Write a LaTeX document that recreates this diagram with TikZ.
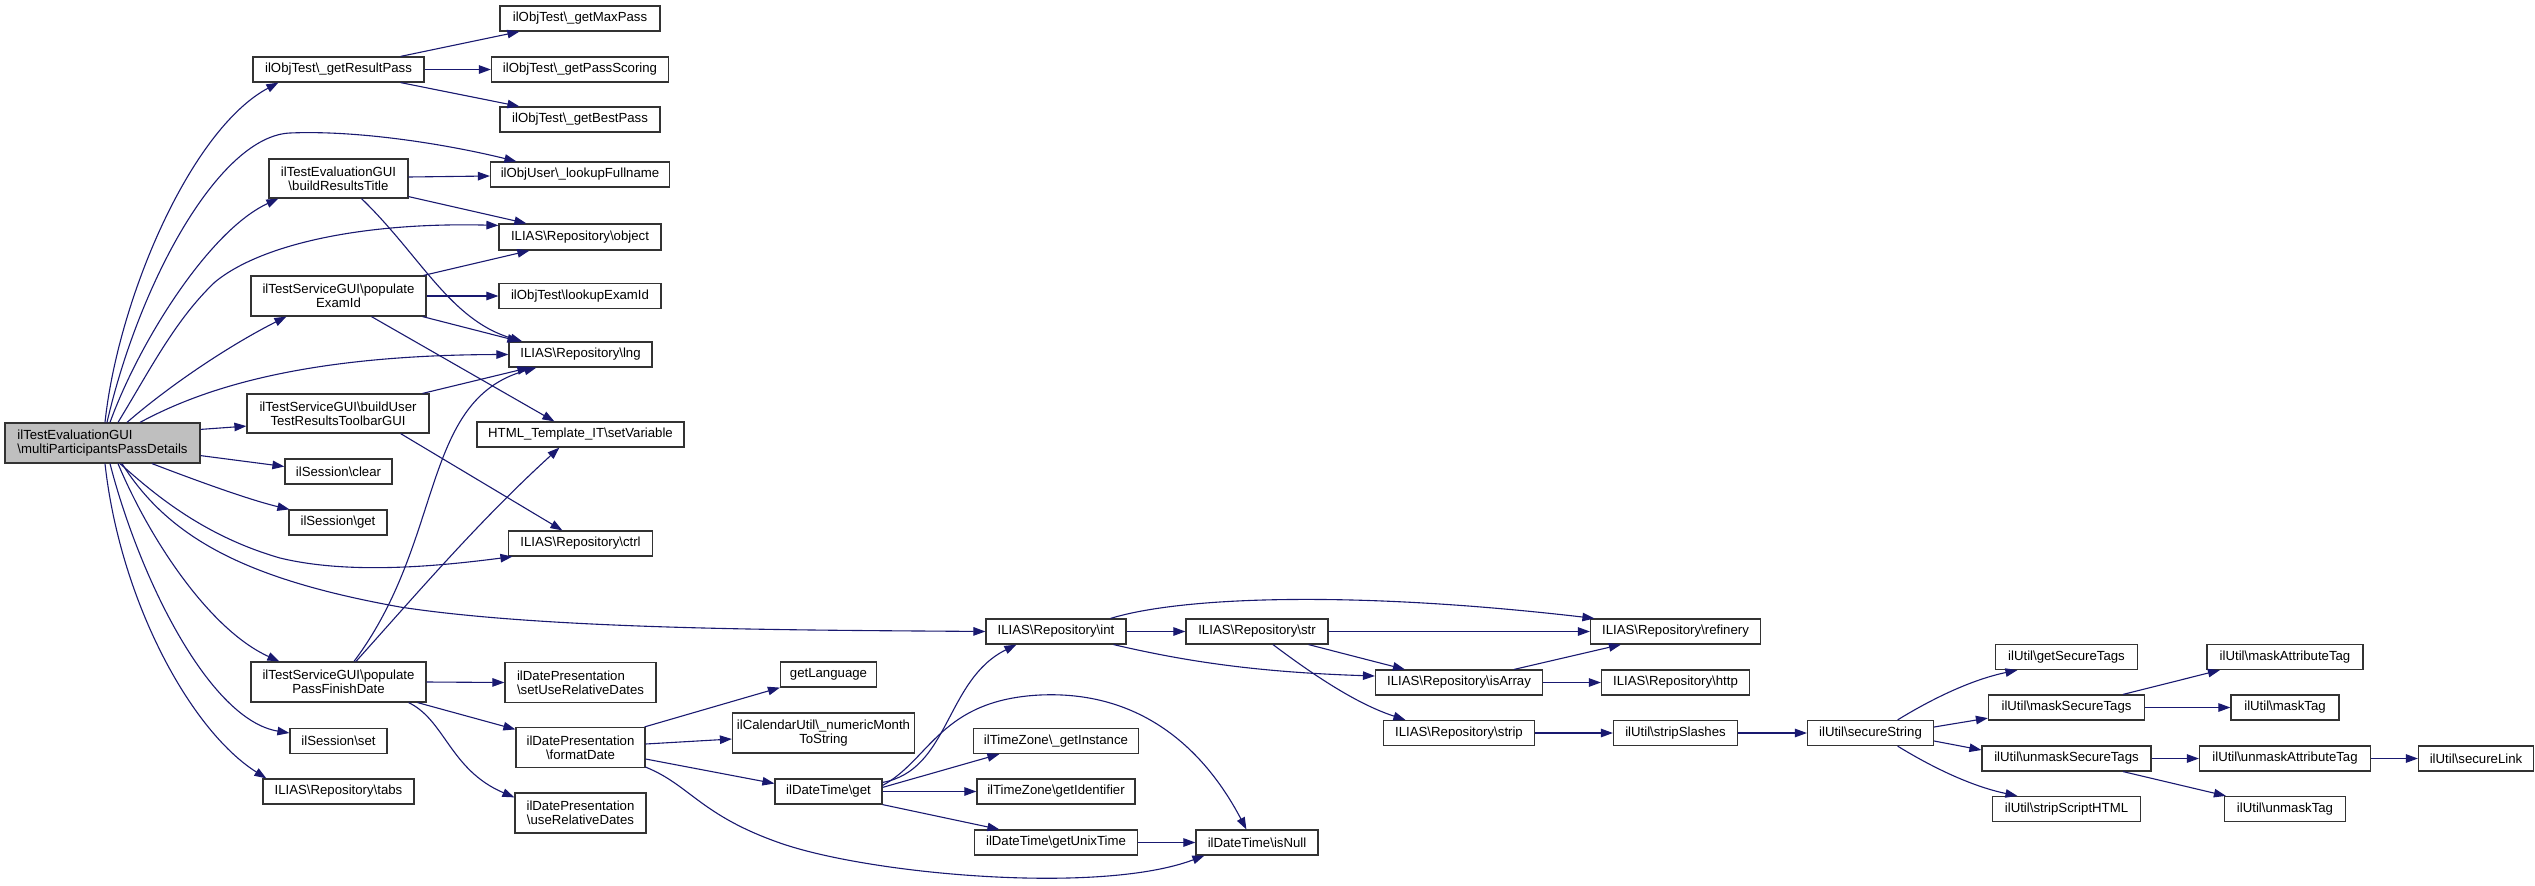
\documentclass[tikz,border=0pt]{standalone}
\usepackage{fontspec}
\setmainfont{Liberation Sans}
\usetikzlibrary{calc,arrows.meta}
\definecolor{edgeblue}{HTML}{191970}
\newcommand{\BSL}{\textbackslash}
\newcommand{\nodefont}{\fontsize{13.2}{14}\selectfont}
\begin{document}
\begin{tikzpicture}[x=1pt,y=-1pt,
  box/.style={draw=black!80, line width=1.2pt, inner sep=0pt, font=\nodefont, align=center, fill=white},
  cn/.style={draw=edgeblue, line width=1.1pt, -{Triangle[length=12pt,width=8.5pt]}, edgeblue}]
\useasboundingbox[fill=white] (0,0) rectangle (2535,886);
% rank 0
\node[box, fill=black!25, align=left, minimum width=195pt, minimum height=40pt] (main) at (102.5,443) {ilTestEvaluationGUI\\\BSL multiParticipantsPassDetails};
% rank 1
\node[box, minimum width=171pt, minimum height=25pt] (grp) at (338.5,69.5) {ilObjTest\BSL\_getResultPass};
\node[box, minimum width=139pt, minimum height=39pt] (brt) at (338.5,178.5) {ilTestEvaluationGUI\\\BSL buildResultsTitle};
\node[box, minimum width=175pt, minimum height=40pt] (pei) at (338.5,296) {ilTestServiceGUI\BSL populate\\ExamId};
\node[box, minimum width=182pt, minimum height=39pt] (but) at (338,413.5) {ilTestServiceGUI\BSL buildUser\\TestResultsToolbarGUI};
\node[box, minimum width=107pt, minimum height=25pt] (sclear) at (338.5,471.5) {ilSession\BSL clear};
\node[box, minimum width=98pt, minimum height=25pt] (sget) at (338,522.5) {ilSession\BSL get};
\node[box, minimum width=175pt, minimum height=40pt] (ppfd) at (338.5,682) {ilTestServiceGUI\BSL populate\\PassFinishDate};
\node[box, minimum width=97pt, minimum height=25pt] (sset) at (338.5,741) {ilSession\BSL set};
\node[box, minimum width=151pt, minimum height=25pt] (tabs) at (338.5,791.5) {ILIAS\BSL Repository\BSL tabs};
% rank 2
\node[box, minimum width=160pt, minimum height=25pt] (gmp) at (580,18.5) {ilObjTest\BSL\_getMaxPass};
\node[box, minimum width=177pt, minimum height=25pt] (gps) at (580,69.5) {ilObjTest\BSL\_getPassScoring};
\node[box, minimum width=160pt, minimum height=25pt] (gbp) at (580,119.5) {ilObjTest\BSL\_getBestPass};
\node[box, minimum width=179pt, minimum height=25pt] (luf) at (580,174.5) {ilObjUser\BSL\_lookupFullname};
\node[box, minimum width=162pt, minimum height=26pt] (obj) at (580,237) {ILIAS\BSL Repository\BSL object};
\node[box, minimum width=162pt, minimum height=25pt] (lei) at (580,296) {ilObjTest\BSL lookupExamId};
\node[box, minimum width=143pt, minimum height=25pt] (lng) at (580.5,354.5) {ILIAS\BSL Repository\BSL lng};
\node[box, minimum width=207pt, minimum height=25pt] (setv) at (580.5,434.5) {HTML\_Template\_IT\BSL setVariable};
\node[box, minimum width=144pt, minimum height=25pt] (ctrl) at (580.5,543.5) {ILIAS\BSL Repository\BSL ctrl};
\node[box, align=left, minimum width=151pt, minimum height=40pt] (surd) at (580.5,682.5) {ilDatePresentation\\\BSL setUseRelativeDates};
\node[box, minimum width=129pt, minimum height=40pt] (fmt) at (580.5,747.5) {ilDatePresentation\\\BSL formatDate};
\node[box, minimum width=131pt, minimum height=40pt] (urd) at (580.5,813) {ilDatePresentation\\\BSL useRelativeDates};
% rank 3
\node[box, minimum width=96pt, minimum height=25pt] (glang) at (828.5,674.5) {getLanguage};
\node[box, minimum width=182pt, minimum height=40pt] (cal) at (823.5,733) {ilCalendarUtil\BSL\_numericMonth\\ToString};
\node[box, minimum width=107pt, minimum height=25pt] (dget) at (828.5,791.5) {ilDateTime\BSL get};
% rank 4
\node[box, minimum width=140pt, minimum height=25pt] (int) at (1056,631.5) {ILIAS\BSL Repository\BSL int};
\node[box, minimum width=165pt, minimum height=25pt] (gin) at (1056,741) {ilTimeZone\BSL\_getInstance};
\node[box, minimum width=158pt, minimum height=25pt] (gid) at (1056,791.5) {ilTimeZone\BSL getIdentifier};
\node[box, minimum width=163pt, minimum height=25pt] (gut) at (1056,842.5) {ilDateTime\BSL getUnixTime};
% rank 5
\node[box, minimum width=142pt, minimum height=25pt] (str) at (1257,631.5) {ILIAS\BSL Repository\BSL str};
\node[box, minimum width=122pt, minimum height=25pt] (isn) at (1257,842.5) {ilDateTime\BSL isNull};
% rank 6
\node[box, minimum width=167pt, minimum height=25pt] (isarr) at (1459,682.5) {ILIAS\BSL Repository\BSL isArray};
\node[box, minimum width=151pt, minimum height=25pt] (strip) at (1459,733) {ILIAS\BSL Repository\BSL strip};
% rank 7
\node[box, minimum width=170pt, minimum height=25pt] (ref) at (1675.5,631.5) {ILIAS\BSL Repository\BSL refinery};
\node[box, minimum width=148pt, minimum height=25pt] (http) at (1675.5,682.5) {ILIAS\BSL Repository\BSL http};
\node[box, minimum width=124pt, minimum height=25pt] (sls) at (1675.5,733) {ilUtil\BSL stripSlashes};
% rank 8
\node[box, minimum width=126pt, minimum height=25pt] (sec) at (1870.5,733) {ilUtil\BSL secureString};
% rank 9
\node[box, minimum width=142pt, minimum height=25pt] (gst) at (2066.5,657) {ilUtil\BSL getSecureTags};
\node[box, minimum width=156pt, minimum height=25pt] (mst) at (2066.5,707.5) {ilUtil\BSL maskSecureTags};
\node[box, minimum width=169pt, minimum height=25pt] (ust) at (2066.5,758.5) {ilUtil\BSL unmaskSecureTags};
\node[box, minimum width=148pt, minimum height=25pt] (ssh) at (2066.5,809) {ilUtil\BSL stripScriptHTML};
% rank 10
\node[box, minimum width=156pt, minimum height=25pt] (mat) at (2285,657) {ilUtil\BSL maskAttributeTag};
\node[box, minimum width=108pt, minimum height=25pt] (mtag) at (2285,707.5) {ilUtil\BSL maskTag};
\node[box, minimum width=171pt, minimum height=25pt] (uat) at (2285,758.5) {ilUtil\BSL unmaskAttributeTag};
\node[box, minimum width=121pt, minimum height=25pt] (utag) at (2285,809) {ilUtil\BSL unmaskTag};
% rank 11
\node[box, minimum width=115pt, minimum height=25pt] (slink) at (2476,758.5) {ilUtil\BSL secureLink};

% edges from main
\draw[cn] ($(main.north)+(2.5,0)$) .. controls (118,300) and (190,130) .. ($(grp.south west)+(26,0)$);
\draw[cn] ($(main.north)+(4.5,0)$) .. controls (140,280) and (220,136) .. (290,133) .. controls (360,130) and (450,145) .. ($(luf.north west)+(26.5,0)$);
\draw[cn] ($(main.north)+(7.5,0)$) .. controls (140,340) and (210,230) .. ($(brt.south west)+(10,0)$);
\draw[cn] ($(main.north)+(15.5,0)$) .. controls (150,370) and (175,320) .. (215,282) .. controls (260,245) and (360,222) .. ($(obj.north west)+(0,2)$);
\draw[cn] ($(main.north)+(24.5,0)$) .. controls (170,385) and (230,345) .. ($(pei.south west)+(36,0)$);
\draw[cn] ($(main.north)+(37.5,0)$) .. controls (200,390) and (300,355) .. (lng.west);
\draw[cn] ($(main.north east)+(0,7)$) -- ($(but.south west)+(0,-7.5)$);
\draw[cn] ($(main.south east)+(0,-8)$) -- ($(sclear.west)+(0,-5)$);
\draw[cn] ($(main.south)+(49.5,0)$) .. controls (200,482) and (250,500) .. ($(sget.north west)+(1,0)$);
\draw[cn] ($(main.south)+(17.5,0)$) .. controls (150,490) and (200,535) .. (280,558) .. controls (350,575) and (440,566) .. ($(ctrl.south west)+(4.5,0)$);
\draw[cn] ($(main.south)+(19.5,0)$) .. controls (170,540) and (250,580) .. (400,607) .. controls (550,630) and (800,630) .. (int.west);
\draw[cn] ($(main.south)+(15.5,0)$) .. controls (150,540) and (210,630) .. ($(ppfd.north west)+(29,0)$);
\draw[cn] ($(main.south)+(7.5,0)$) .. controls (140,580) and (210,720) .. ($(sset.west)+(0,-8)$);
\draw[cn] ($(main.south)+(2.5,0)$) .. controls (120,600) and (190,730) .. ($(tabs.north west)+(4,0)$);

% rank 1 edges
\draw[cn] ($(grp.north east)+(-24,0)$) -- ($(gmp.south west)+(20,0)$);
\draw[cn] (grp.east) -- (gps.west);
\draw[cn] ($(grp.south east)+(-24,0)$) -- ($(gbp.north west)+(20,0)$);
\draw[cn] ($(brt.east)+(0,-1.5)$) -- ($(luf.west)+(0,1.5)$);
\draw[cn] ($(brt.south east)+(0,-2)$) -- ($(obj.north west)+(28,0)$);
\draw[cn] ($(brt.south)+(23,0)$) .. controls (420,255) and (450,320) .. ($(lng.north west)+(14,0)$);
\draw[cn] ($(pei.north east)+(-3,0)$) -- ($(obj.south west)+(31,0)$);
\draw[cn] (pei.east) -- (lei.west);
\draw[cn] ($(pei.south east)+(-4,0)$) -- ($(lng.north west)+(11,0)$);
\draw[cn] ($(pei.south)+(33,0)$) -- ($(setv.north west)+(78,0)$);
\draw[cn] ($(but.north east)+(-7,0)$) -- ($(lng.south west)+(21,0)$);
\draw[cn] ($(but.south east)+(-29,0)$) -- ($(ctrl.north west)+(54.5,0)$);
\draw[cn] ($(ppfd.north)+(15.5,0)$) .. controls (445,540) and (420,400) .. ($(lng.south west)+(28,0)$);
\draw[cn] ($(ppfd.north)+(17.5,0)$) .. controls (420,590) and (480,520) .. ($(setv.south west)+(83,0)$);
\draw[cn] (ppfd.east) -- (surd.west);
\draw[cn] ($(ppfd.south east)+(-9,0)$) -- ($(fmt.north west)+(0,2.5)$);
\draw[cn] ($(ppfd.south east)+(-18,0)$) .. controls (445,720) and (450,770) .. ($(urd.north west)+(0,5)$);

% formatDate edges
\draw[cn] ($(fmt.north east)+(-1,0)$) -- (glang.south west);
\draw[cn] ($(fmt.east)+(0,-3.5)$) -- ($(cal.west)+(0,6)$);
\draw[cn] ($(fmt.east)+(0,11.5)$) -- ($(dget.west)+(0,-8)$);
\draw[cn] ($(fmt.south east)+(0,-1)$) .. controls (690,785) and (700,815) .. (780,843) .. controls (870,874.5) and (1100,895) .. ($(isn.south west)+(9,0)$);

% ilDateTime get edges
\draw[cn] ($(dget.north east)+(0,4)$) .. controls (950,770) and (945,680) .. ($(int.south west)+(31,0)$);
\draw[cn] ($(dget.north east)+(0,7)$) .. controls (930,760) and (940,700) .. (1040,695) .. controls (1150,690) and (1210,760) .. ($(isn.north west)+(51,0)$);
\draw[cn] ($(dget.north east)+(0,9)$) -- ($(gin.south west)+(26.5,0)$);
\draw[cn] (dget.east) -- (gid.west);
\draw[cn] (dget.south east) -- ($(gut.north west)+(25.5,0)$);
\draw[cn] (gut.east) -- (isn.west);

% int / str edges
\draw[cn] (int.east) -- (str.west);
\draw[cn] ($(int.north east)+(-16,0)$) .. controls (1180,597) and (1350,590) .. ($(ref.north west)+(4.5,0)$);
\draw[cn] ($(int.south east)+(-13,0)$) .. controls (1180,660) and (1250,672) .. ($(isarr.west)+(0,-6.5)$);
\draw[cn] (str.east) -- (ref.west);
\draw[cn] ($(str.south east)+(-20,0)$) -- ($(isarr.north west)+(30,0)$);
\draw[cn] ($(str.south)+(16,0)$) .. controls (1320,680) and (1360,705) .. ($(strip.north west)+(22.5,0)$);
\draw[cn] ($(isarr.north east)+(-29,0)$) -- ($(ref.south west)+(31,0)$);
\draw[cn] (isarr.east) -- (http.west);
\draw[cn] (strip.east) -- (sls.west);
\draw[cn] (sls.east) -- (sec.west);

% secureString edges
\draw[cn] ($(sec.north east)+(-36.5,0)$) .. controls (1930,700) and (1970,680) .. ($(gst.south west)+(22.5,0)$);
\draw[cn] ($(sec.east)+(0,-6)$) -- ($(mst.south west)+(0,-2.5)$);
\draw[cn] ($(sec.east)+(0,8)$) -- ($(ust.west)+(0,-8.5)$);
\draw[cn] ($(sec.south east)+(-36.5,0)$) .. controls (1930,766) and (1970,786) .. ($(ssh.north west)+(25.5,0)$);
\draw[cn] ($(mst.north east)+(-22,0)$) -- ($(mat.south west)+(13.5,0)$);
\draw[cn] (mst.east) -- (mtag.west);
\draw[cn] (ust.east) -- (uat.west);
\draw[cn] ($(ust.south east)+(-28.5,0)$) -- ($(utag.north west)+(2,0)$);
\draw[cn] (uat.east) -- (slink.west);
\end{tikzpicture}
\end{document}
